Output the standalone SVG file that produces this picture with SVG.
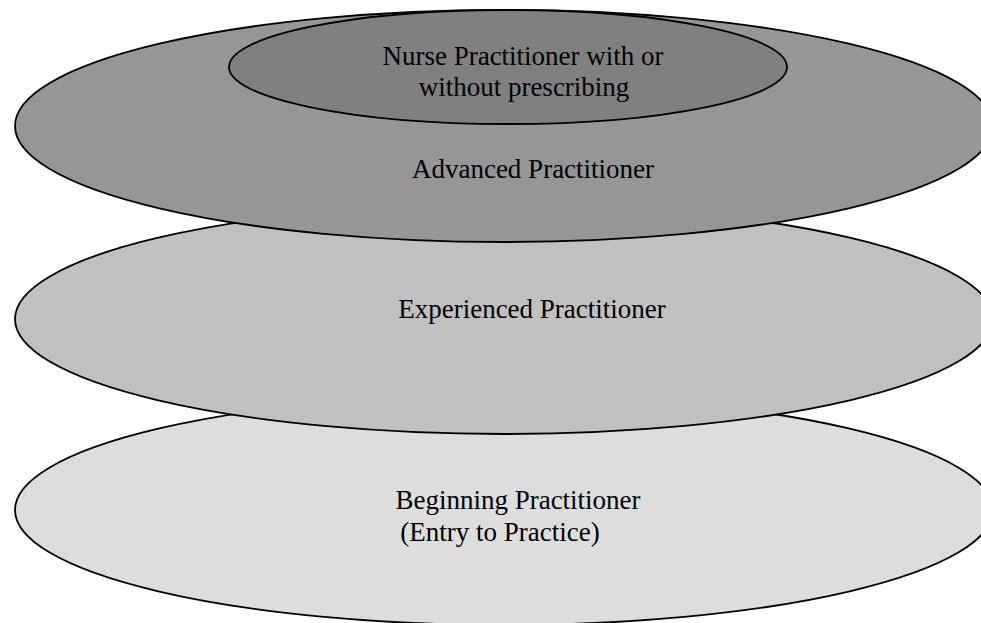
<svg xmlns="http://www.w3.org/2000/svg" width="981" height="623" viewBox="0 0 981 623">
<style>
.e{stroke:#000;stroke-width:1.8}
.t{font-family:"Liberation Serif","Times New Roman",serif;font-size:27px;fill:#000;text-anchor:middle}
</style>
<rect width="981" height="623" fill="#fff"/>
<g id="beginning">
<ellipse class="e" cx="504" cy="510" rx="489" ry="115" fill="#dddddd"/>
<text class="t" x="518" y="509">Beginning Practitioner</text>
<text class="t" x="500" y="541">(Entry to Practice)</text>
</g>
<g id="experienced">
<ellipse class="e" cx="504" cy="319" rx="489" ry="115" fill="#c0c0c0"/>
<text class="t" x="532" y="318">Experienced Practitioner</text>
</g>
<g id="advanced">
<ellipse class="e" cx="504" cy="126" rx="489" ry="116" fill="#969696"/>
<text class="t" x="533" y="178">Advanced Practitioner</text>
</g>
<g id="nurse">
<ellipse class="e" cx="508" cy="67" rx="279" ry="57" fill="#808080"/>
<text class="t" x="523" y="65">Nurse Practitioner with or</text>
<text class="t" x="524" y="96">without prescribing</text>
</g>
<g id="connectors"/>
</svg>
